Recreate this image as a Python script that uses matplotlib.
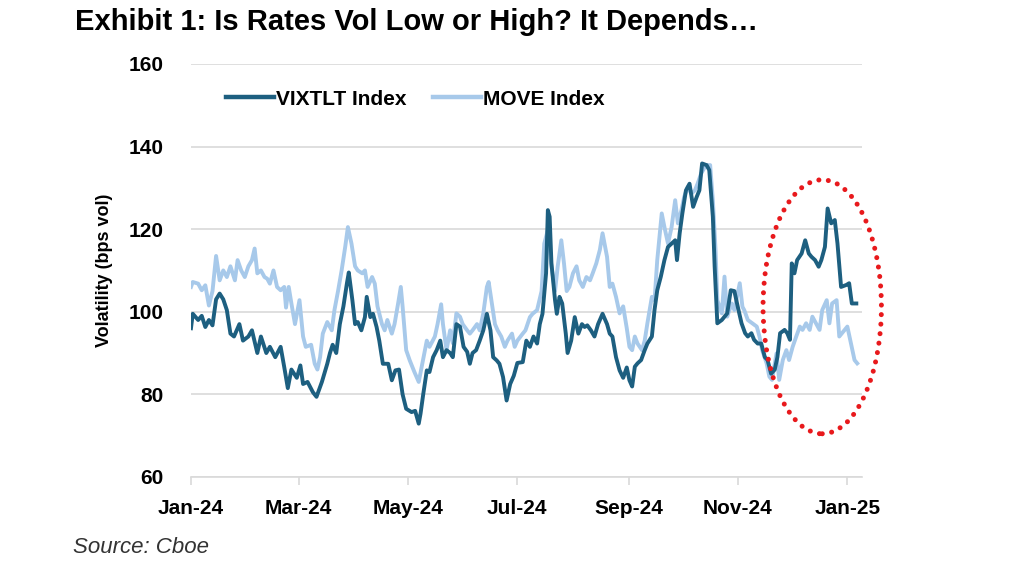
import numpy as np
import pandas as pd
import matplotlib
matplotlib.use("Agg")
import matplotlib.pyplot as plt
import matplotlib.dates as mdates
from matplotlib.patches import Ellipse

plt.rcParams['font.family'] = ['Liberation Sans', 'DejaVu Sans']

start = pd.Timestamp('2024-01-01')

# days since 1 Jan 2024
vix_day = [0, 1, 4, 6, 8, 10, 12, 14, 16, 18, 20, 22, 24, 27, 29, 32, 34, 37, 39, 42,
           44, 47, 50, 52, 54, 56, 59, 61, 62.5, 65, 68, 70, 73, 76, 77.5, 79, 81, 83, 85, 87,
           88, 90, 91.5, 93, 95, 97, 98, 100, 101.5, 103.5, 105, 107, 110, 112, 114, 116, 118, 120, 123, 125,
           127, 128, 129.5, 131.5, 133, 135, 137, 139, 140.5, 142.5, 144.5, 146, 148, 150, 152, 154, 155.5, 157, 159, 161,
           163, 165, 167, 168.5, 170.5, 172, 174, 176, 178, 180, 182, 185, 187, 189, 191, 193, 194.5, 196, 198, 199,
           200, 201, 203, 204, 205.5, 207, 209, 210, 212, 214, 216, 218, 219.5, 221, 223, 225, 227, 229.5, 232, 233.5,
           235, 237, 239, 241, 243, 244.5, 246, 247.5, 249, 251, 253, 254.5, 257, 258.5, 260, 262, 264, 266, 268, 270,
           271, 272.5, 274, 276, 278, 280, 282, 283.5, 285, 287.5, 289, 291, 292, 293.5, 296, 297.5, 299, 301, 303, 305,
           307, 309, 310.5, 312.5, 314, 316, 318, 320, 321.5, 323.5, 325.5, 327, 328.5, 331, 332.5, 334, 335, 336.5, 338, 340.5,
           342.5, 344.5, 346, 348, 350, 351.5, 353.5, 355, 357, 359, 360.5, 362.5, 365.5, 367, 368.5, 371]
vix_val = [96, 99.5, 98, 99, 96.3, 98, 96.7, 103, 104.4, 103, 100.4, 94.7, 94, 97, 93, 94, 95.5, 90, 94, 90,
           91.5, 89, 91.5, 86.6, 81.5, 86, 84, 87, 82.5, 83, 80.5, 79.4, 83, 87.4, 90, 92, 90, 97, 101.3, 107,
           109.5, 102.8, 97, 97.5, 95.5, 98.7, 103.6, 98.7, 99.5, 96.3, 93, 87.4, 87.4, 83.4, 85.8, 86, 80, 76.5, 75.7, 76,
           72.9, 75.3, 80, 85.8, 85.4, 89, 90.7, 93, 89, 90.7, 90, 89, 97, 96.4, 91.5, 90.3, 87.4, 90, 90.7, 93,
           95.5, 99.5, 95.5, 89, 88.2, 87.4, 84.2, 78.5, 82.5, 84.5, 87.6, 87.8, 93, 91.5, 94, 92.3, 97, 99.5, 109.3, 124.6,
           123, 111.7, 102.8, 99.5, 103.6, 102, 94.7, 90, 93, 98.7, 94.7, 97, 96.3, 96.7, 95.5, 94, 97, 99.5, 97, 94.7,
           94, 89, 85.8, 84, 86.5, 83.4, 81.9, 86.7, 87.5, 88.3, 90.7, 92.3, 94, 100.5, 105.2, 108.5, 112.5, 115.7, 116.5, 117.3,
           112.5, 119, 123.8, 129.4, 131, 125.4, 127.8, 129.4, 135.9, 135.5, 134.3, 123, 111, 97.2, 98, 98.8, 99.6, 105.2, 105, 101,
           97.2, 94.8, 94, 94.8, 93.2, 92.3, 92.3, 89, 88.3, 85, 86, 89, 94.8, 95.6, 94.8, 93.2, 111.7, 109.3, 112.5, 114.1,
           117.3, 114.1, 113.3, 112.5, 110.9, 112.5, 115.7, 125, 121.4, 122.2, 116.5, 106, 106.5, 106.9, 102, 102]

move_day = [0, 1, 4, 6, 8, 10, 12, 14, 16, 18, 20, 22, 24.5, 26, 28, 30, 32, 34, 35.5, 37,
            39, 41, 42.5, 44, 46, 48, 50, 52, 53, 54.5, 56, 58, 60.5, 62.5, 64, 67, 69, 70.5, 72, 73.5,
            76, 78.5, 80, 82, 84, 86, 87.5, 89.5, 91.5, 93, 95.5, 97, 98.5, 101, 102.5, 104, 106.5, 108, 109.5, 112,
            113.5, 115.5, 117, 118, 120, 122, 124.5, 127, 129, 131.5, 133, 136, 137.5, 139.5, 140.5, 142.5, 144.5, 146, 148, 150,
            151.5, 154, 155.5, 157, 159.5, 161, 163, 165, 166, 167.5, 169.5, 171, 173, 175, 176.5, 179, 180.5, 182, 185, 186.5,
            189, 190.5, 193, 195.5, 197, 199, 201, 203, 204.5, 206.5, 208, 209.5, 211, 213, 215, 216.5, 218.5, 220.5, 222.5, 224,
            226, 228, 229.5, 232, 233.5, 235, 237, 239, 241, 243, 244.5, 246, 247.5, 249, 251.5, 253, 254.5, 257, 258.5, 260,
            262.5, 264, 266, 268, 270, 271.5, 273.5, 275, 277, 279, 281, 282.5, 284.5, 286.5, 288, 289.5, 291, 292.5, 293.5, 296,
            297.5, 299, 301.5, 303, 306, 307.5, 308.5, 310.5, 313, 315.5, 317, 318.5, 321, 322.5, 324, 326.5, 328, 330, 332, 333.5,
            335.5, 337.5, 339.5, 341, 343, 345, 346.5, 348.5, 350.5, 352, 354.5, 356, 357.5, 360, 361.5, 363, 366, 368, 370, 371.5]
move_val = [106, 107.2, 106.8, 105.2, 106.4, 101.5, 105, 113.5, 107.6, 110, 108.4, 111, 107.6, 112.5, 110, 108.4, 111, 112.5, 115.3, 109.3,
            110, 108.4, 108, 106.8, 110, 106, 105.2, 106, 101, 106, 102, 97, 102.8, 94, 91.5, 92, 87.4, 86, 89, 94.7,
            97.5, 95.5, 100.4, 105, 110, 115.7, 120.5, 116.5, 111, 110, 109.3, 110, 106, 108.4, 106.8, 101.3, 97, 95.5, 98, 94.7,
            97, 102, 106, 101.3, 90.7, 88.2, 85.5, 83, 87.4, 93, 91.5, 94, 97, 101.8, 97, 90.7, 95.5, 92.4, 99.6, 98.8,
            97, 95.5, 94.7, 95.5, 97, 95.5, 99.6, 106, 107.2, 102.8, 97, 95.5, 94, 91.5, 93, 94.7, 91.5, 93, 94.7, 95.5,
            98.7, 99.5, 100.4, 105, 116.5, 119.8, 111, 105, 111, 117.3, 111.7, 105, 106, 109.3, 111, 107.6, 106, 108.4, 107.6, 109.3,
            111.7, 115, 119, 113.3, 106, 106.8, 103.6, 99.6, 101.3, 96, 91.5, 90.7, 94, 92.3, 90.7, 93, 97.2, 103.6, 102.8, 112.5,
            123.8, 120.5, 116.5, 120.5, 127, 121.4, 124.6, 127.8, 130.2, 128.6, 129.4, 131, 133.5, 135, 135.5, 135.5, 127, 115, 102.8, 99.6,
            108.5, 98.8, 102, 100.4, 106.9, 101.2, 100.4, 98, 97.2, 96.4, 94, 90.7, 87.5, 84.3, 83.5, 89.9, 83.5, 88.3, 90.7, 88.3,
            91.5, 94, 96.4, 95.6, 97.2, 95.6, 98.8, 97.2, 95.6, 100.4, 102.8, 97.2, 102, 102.8, 94, 94.8, 96.4, 92.3, 88.3, 87.5]

vix_dates = start + pd.to_timedelta(vix_day, unit='D')
move_dates = start + pd.to_timedelta(move_day, unit='D')

y_ticks = [60, 80, 100, 120, 140, 160]
x_ticks = pd.date_range('2024-01-01', '2025-01-01', freq='2MS')

dark = '#1d5f80'
light = '#a7c9ea'

fig = plt.figure(figsize=(10.24, 5.76), dpi=100)
ax = fig.add_axes([0.1865, 0.172, 0.655, 0.717])

ax.plot(move_dates, move_val, color=light, lw=2.8, label='MOVE Index', zorder=2,
        solid_joinstyle='round')
ax.plot(vix_dates, vix_val, color=dark, lw=2.8, label='VIXTLT Index', zorder=3,
        solid_joinstyle='round')

ax.set_ylim(60, 160)
ax.set_yticks(y_ticks)
ax.set_xlim(pd.Timestamp('2024-01-01'), pd.Timestamp('2025-01-09'))
ax.set_xticks(x_ticks)
ax.xaxis.set_major_formatter(mdates.DateFormatter('%b-%y'))

ax.grid(axis='y', color='#d9d9d9', lw=1.2)
ax.set_axisbelow(True)
for s in ['top', 'right', 'left']:
    ax.spines[s].set_visible(False)
ax.spines['bottom'].set_color('#d9d9d9')
ax.spines['bottom'].set_linewidth(1.2)
ax.tick_params(axis='y', length=0, pad=20, labelsize=15)
ax.tick_params(axis='x', length=6, color='#d9d9d9', width=1.2, pad=10, labelsize=15)
for lab in ax.get_xticklabels() + ax.get_yticklabels():
    lab.set_fontweight('bold')

# dotted circle around the recent divergence
center = mdates.date2num(pd.Timestamp('2024-12-18'))
ell = Ellipse((center, 101.2), width=66, height=61.5, fill=False,
              edgecolor='#e8191c', lw=3.6, linestyle=(0, (0.01, 1.9)),
              capstyle='round', clip_on=False, zorder=4)
ax.add_patch(ell)

h, l = ax.get_legend_handles_labels()
leg = ax.legend(h[::-1], l[::-1], loc='center left', bbox_to_anchor=(0.052, 0.915),
                ncol=2, frameon=False, handlelength=2.3, handletextpad=0.1,
                columnspacing=1.3, borderpad=0, borderaxespad=0,
                prop={'weight': 'bold', 'size': 15})
for line in leg.get_lines():
    line.set_linewidth(3.2)

fig.text(0.073, 0.962, 'Exhibit 1: Is Rates Vol Low or High? It Depends\u2026',
         fontsize=21, fontweight='bold', va='center', ha='left')
fig.text(0.102, 0.531, 'Volatility (bps vol)', rotation=90, fontsize=13,
         fontweight='bold', va='center', ha='center')
fig.text(0.071, 0.05, 'Source: Cboe', fontsize=16, style='italic',
         color='#333333', va='center', ha='left')

fig.savefig('out.png', dpi=100)
